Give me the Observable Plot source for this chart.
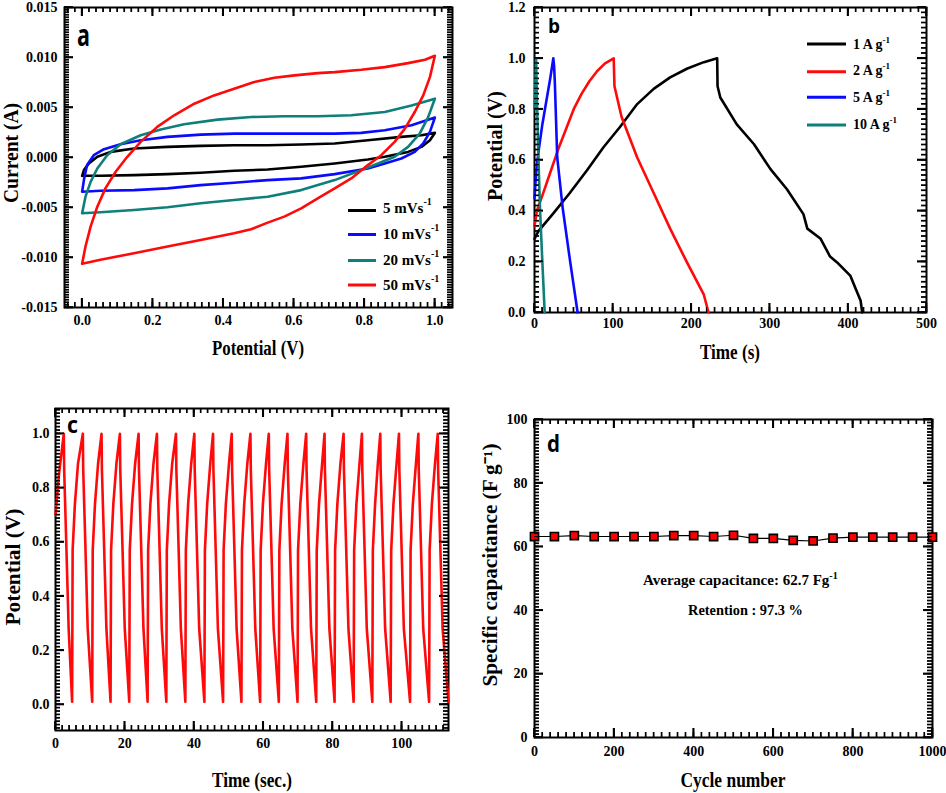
<!DOCTYPE html>
<html><head><meta charset="utf-8">
<script src="https://cdn.jsdelivr.net/npm/d3@7"></script>
<script src="https://cdn.jsdelivr.net/npm/@observablehq/plot@0.6"></script>
<style>
body{margin:0;background:#fff;}
#fig{position:relative;width:946px;height:793px;overflow:hidden;background:#fff;}
</style></head><body><div id="fig"></div><script>
// ---------- Panel a: cyclic voltammetry [potential (V), current (A)] ----------
const cvLabels = ["5 mVs", "10 mVs", "20 mVs", "50 mVs"];
const cvColors = ["#000000", "#0a0aff", "#0e7f7a", "#ff0a0a"];
const cv5 = [[0,-0.00183],[0.005,-0.00126],[0.019,-0.00060],[0.043,0.00007],[0.081,0.00056],[0.147,0.00090],[0.242,0.00106],[0.336,0.00116],[0.431,0.00123],[0.526,0.00123],[0.621,0.00130],[0.716,0.00140],[0.810,0.00173],[0.905,0.00206],[0.962,0.00223],[1.0,0.00246],
  [0.986,0.00173],[0.962,0.00106],[0.924,0.00056],[0.858,0.00007],[0.810,-0.00020],[0.716,-0.00060],[0.621,-0.00093],[0.526,-0.00120],[0.431,-0.00133],[0.336,-0.00153],[0.242,-0.00166],[0.147,-0.00176],[0.052,-0.00183],[0,-0.00183]];
const cv10 = [[0,-0.00342],[0.005,-0.00226],[0.014,-0.00076],[0.033,0.00023],[0.062,0.00083],[0.109,0.00133],[0.166,0.00173],[0.242,0.00206],[0.336,0.00229],[0.431,0.00239],[0.526,0.00239],[0.621,0.00239],[0.716,0.00239],[0.791,0.00246],[0.858,0.00272],[0.934,0.00322],[1.0,0.00399],
  [0.986,0.00256],[0.967,0.00140],[0.943,0.00056],[0.905,-0.00010],[0.858,-0.00060],[0.810,-0.00110],[0.716,-0.00166],[0.621,-0.00209],[0.526,-0.00226],[0.431,-0.00252],[0.336,-0.00276],[0.242,-0.00309],[0.147,-0.00326],[0.052,-0.00332],[0,-0.00342]];
const cv20 = [[0,-0.00558],[0.0095,-0.00392],[0.024,-0.00243],[0.043,-0.00110],[0.071,0.00023],[0.109,0.00133],[0.166,0.00223],[0.223,0.00279],[0.289,0.00332],[0.384,0.00379],[0.479,0.00405],[0.573,0.00412],[0.668,0.00412],[0.763,0.00422],[0.858,0.00455],[0.934,0.00521],[1.0,0.00588],
  [0.981,0.00404],[0.957,0.00239],[0.924,0.00106],[0.886,0.00007],[0.839,-0.00060],[0.791,-0.00126],[0.716,-0.00226],[0.621,-0.00326],[0.526,-0.00392],[0.431,-0.00425],[0.336,-0.00458],[0.242,-0.00498],[0.147,-0.00525],[0.052,-0.00548],[0,-0.00558]];
const cv50 = [[0,-0.01063],[0.0095,-0.00890],[0.024,-0.00691],[0.043,-0.00492],[0.066,-0.00309],[0.095,-0.00143],[0.128,0.00007],[0.166,0.00156],[0.213,0.00306],[0.261,0.00422],[0.318,0.00538],[0.374,0.00621],[0.431,0.00688],[0.488,0.00754],[0.545,0.00797],[0.602,0.00821],[0.668,0.00844],[0.716,0.00854],[0.791,0.00877],[0.858,0.00904],[0.924,0.00944],[0.972,0.00977],[1.0,0.01017],
  [0.986,0.00804],[0.967,0.00621],[0.943,0.00455],[0.915,0.00289],[0.886,0.00156],[0.848,0.00023],[0.810,-0.00076],[0.763,-0.00209],[0.716,-0.00309],[0.668,-0.00409],[0.621,-0.00508],[0.573,-0.00591],[0.526,-0.00651],[0.479,-0.00718],[0.431,-0.00757],[0.336,-0.00824],[0.242,-0.00890],[0.147,-0.00957],[0.052,-0.01023],[0,-0.01063]];
const cvTicksX = [0, 0.2, 0.4, 0.6, 0.8, 1.0];
const cvTicksY = [-0.015, -0.010, -0.005, 0, 0.005, 0.010, 0.015];

// ---------- Panel b: galvanostatic charge/discharge [time (s), potential (V)] ----------
const gcdLabels = ["1 A g", "2 A g", "5 A g", "10 A g"];
const gcdColors = ["#000000", "#ff0a0a", "#0a0aff", "#0e7f7a"];
const gcd1 = [[0,0.29],[5,0.32],[24,0.39],[45,0.47],[67,0.56],[88,0.65],[109,0.73],[131,0.82],[152,0.88],[173,0.925],[195,0.96],[216,0.985],[233,1.0],[233.5,0.89],[237,0.846],[258,0.74],[280,0.662],[301,0.564],[322,0.485],[343,0.387],[348,0.33],[365,0.29],[377,0.22],[386,0.197],[403,0.144],[409,0.098],[416,0.046],[418,0]];
const gcd2 = [[0,0.34],[3,0.40],[10,0.46],[20,0.55],[30,0.64],[40,0.72],[50,0.80],[60,0.86],[70,0.91],[80,0.95],[90,0.98],[101,1.0],[102,0.89],[111,0.77],[131,0.61],[152,0.47],[173,0.33],[194,0.20],[216,0.07],[222,0]];
const gcd5 = [[0,0.45],[2,0.55],[5,0.63],[10,0.74],[15,0.83],[20,0.92],[24,1.0],[25,0.97],[26,0.9],[29,0.61],[36,0.41],[45.5,0.2],[55,0]];
const gcd10 = [[0,0.80],[1,0.9],[2,1.0],[3,0.85],[5,0.61],[7,0.41],[10,0.2],[13,0]];
const gcdTicksX = [0, 100, 200, 300, 400, 500];
const gcdTicksY = [0, 0.2, 0.4, 0.6, 0.8, 1.0, 1.2];

// ---------- Panel c: repeated charge/discharge cycles [time (s), potential (V)] ----------
const cycling = [
[0,0.70],[1.0,0.85],[2.4,1.0],[2.5,0.87],[3.1,0.60],[3.8,0.28],
[4.8,0.01],[4.95,0.57],[5.6,0.74],[6.5,0.89],[7.9,1.0],[8.0,0.87],[8.6,0.60],[9.3,0.28],
[10.6,0.01],[10.75,0.57],[11.4,0.74],[12.3,0.89],[13.3,1.0],[13.4,0.87],[14.0,0.60],[14.7,0.28],
[15.9,0.01],[16.05,0.57],[16.7,0.74],[17.6,0.89],[18.6,1.0],[18.7,0.87],[19.3,0.60],[20.0,0.28],
[21.3,0.01],[21.45,0.57],[22.1,0.74],[23.0,0.89],[24.0,1.0],[24.1,0.87],[24.7,0.60],[25.4,0.28],
[26.6,0.01],[26.75,0.57],[27.4,0.74],[28.3,0.89],[29.3,1.0],[29.4,0.87],[30.0,0.60],[30.7,0.28],
[32.0,0.01],[32.15,0.57],[32.8,0.74],[33.7,0.89],[34.8,1.0],[34.9,0.87],[35.5,0.60],[36.2,0.28],
[37.5,0.01],[37.65,0.57],[38.3,0.74],[39.2,0.89],[40.1,1.0],[40.2,0.87],[40.8,0.60],[41.5,0.28],
[43.0,0.01],[43.15,0.57],[43.8,0.74],[44.7,0.89],[45.5,1.0],[45.6,0.87],[46.2,0.60],[46.9,0.28],
[48.4,0.01],[48.55,0.57],[49.2,0.74],[50.1,0.89],[50.9,1.0],[51.0,0.87],[51.6,0.60],[52.3,0.28],
[53.7,0.01],[53.85,0.57],[54.5,0.74],[55.4,0.89],[56.3,1.0],[56.4,0.87],[57.0,0.60],[57.7,0.28],
[59.1,0.01],[59.25,0.57],[59.9,0.74],[60.8,0.89],[61.6,1.0],[61.7,0.87],[62.3,0.60],[63.0,0.28],
[64.5,0.01],[64.65,0.57],[65.3,0.74],[66.2,0.89],[67.0,1.0],[67.1,0.87],[67.7,0.60],[68.4,0.28],
[69.9,0.01],[70.05,0.57],[70.7,0.74],[71.6,0.89],[72.4,1.0],[72.5,0.87],[73.1,0.60],[73.8,0.28],
[75.3,0.01],[75.45,0.57],[76.1,0.74],[77.0,0.89],[77.7,1.0],[77.8,0.87],[78.4,0.60],[79.1,0.28],
[80.6,0.01],[80.75,0.57],[81.4,0.74],[82.3,0.89],[83.2,1.0],[83.3,0.87],[83.9,0.60],[84.6,0.28],
[86.1,0.01],[86.25,0.57],[86.9,0.74],[87.8,0.89],[88.5,1.0],[88.6,0.87],[89.2,0.60],[89.9,0.28],
[91.5,0.01],[91.65,0.57],[92.3,0.74],[93.1,0.89],[93.8,1.0],[93.9,0.87],[94.5,0.60],[95.2,0.28],
[96.8,0.01],[96.95,0.57],[97.6,0.74],[98.5,0.89],[99.2,1.0],[99.3,0.87],[99.9,0.60],[100.6,0.28],
[102.4,0.01],[102.55,0.57],[103.2,0.74],[104.1,0.89],[104.8,1.0],[104.9,0.87],[105.5,0.60],[106.2,0.28],
[107.9,0.01],[108.05,0.57],[108.7,0.74],[109.6,0.89],[110.4,1.0],[110.5,0.87],[111.1,0.60],[111.8,0.28],
[113.5,0.01]];
const cycTicksX = [0, 20, 40, 60, 80, 100];
const cycTicksY = [0, 0.2, 0.4, 0.6, 0.8, 1.0];

// ---------- Panel d: capacitance retention ----------
const cycleNumber = [0,50,100,150,200,250,300,350,400,450,500,550,600,650,700,750,800,850,900,950,1000];
const capacitance = [63.2,63.2,63.5,63.2,63.2,63.2,63.2,63.5,63.5,63.2,63.6,62.6,62.6,62.0,61.8,62.7,63.0,63.0,63.0,63.0,63.0];
const capTicksX = [0, 200, 400, 600, 800, 1000];
const capTicksY = [0, 20, 40, 60, 80, 100];

// ---------- helpers ----------
const fig = document.getElementById("fig");
const SERIF = "'Liberation Serif', 'Times New Roman', serif";
const toRows = (pairs) => pairs.map(([x, y]) => ({x, y}));
function minor(domain, step) {
  const lo = Math.min(...domain), hi = Math.max(...domain);
  return d3.range(Math.ceil(lo / step - 1e-6), Math.floor(hi / step + 1e-6) + 1).map(i => +(i * step).toFixed(6));
}
function panel(o) {
  const [mt, mr, mb, ml] = o.margin;
  const pw = o.width - ml - mr, ph = o.height - mt - mb;
  const [xa, xb] = o.xDomain, [ya, yb] = o.yDomain;
  const kx = (xb - xa) / pw, ky = (yb - ya) / ph;
  const xm = minor(o.xDomain, o.xStep), ym = minor(o.yDomain, o.yStep);
  const ML = 5, MJ = 9;
  const tk = {stroke: "black", strokeWidth: 1.2};
  const tj = {stroke: "black", strokeWidth: 1.6};
  const edgeTicks = (xs, ys, L, st) => [
    Plot.ruleX(xs, {x: d => d, y1: () => ya, y2: () => ya + L * ky, ...st}),
    Plot.ruleX(xs, {x: d => d, y1: () => yb - L * ky, y2: () => yb, ...st}),
    Plot.ruleY(ys, {y: d => d, x1: () => xa, x2: () => xa + L * kx, ...st}),
    Plot.ruleY(ys, {y: d => d, x1: () => xb - L * kx, x2: () => xb, ...st})
  ];
  const svg = Plot.plot({
      width: o.width, height: o.height,
      marginTop: mt, marginRight: mr, marginBottom: mb, marginLeft: ml,
      style: {fontFamily: SERIF, fontWeight: "bold", fontSize: "14px", color: "black", background: "transparent", overflow: "visible"},
      x: {domain: o.xDomain, axis: null},
      y: {domain: o.yDomain, axis: null},
      marks: [
        Plot.frame({stroke: "black", fill: "none", strokeWidth: 2}),
        ...edgeTicks(xm, ym, ML, tk),
        ...edgeTicks(o.xTicks, o.yTicks, MJ, tj),
        Plot.axisX({ticks: o.xTicks, tickSize: 0, tickPadding: o.padX, tickFormat: o.xFmt, label: null}),
        Plot.axisY({ticks: o.yTicks, tickSize: 0, tickPadding: o.padY, tickFormat: o.yFmt, label: null}),
        ...o.marks
      ]
  });
  // second pass of the inward frame ticks, drawn with the plot's own x/y scales
  const sx = svg.scale("x"), sy = svg.scale("y");
  const X = d3.scaleLinear(sx.domain, sx.range), Y = d3.scaleLinear(sy.domain, sy.range);
  const g = d3.select(svg).append("g").attr("stroke", "black");
  const yBot = Y(ya), yTop = Y(yb), xL = X(xa), xR = X(xb);
  for (const [xs, ys, L, w] of [[xm, ym, ML, 1.2], [o.xTicks, o.yTicks, MJ, 1.6]]) {
    for (const v of xs) {
      const px = X(v);
      g.append("line").attr("x1", px).attr("x2", px).attr("y1", yBot).attr("y2", yBot - L).attr("stroke-width", w);
      g.append("line").attr("x1", px).attr("x2", px).attr("y1", yTop).attr("y2", yTop + L).attr("stroke-width", w);
    }
    for (const v of ys) {
      const py = Y(v);
      g.append("line").attr("y1", py).attr("y2", py).attr("x1", xL).attr("x2", xL + L).attr("stroke-width", w);
      g.append("line").attr("y1", py).attr("y2", py).attr("x1", xR).attr("x2", xR - L).attr("stroke-width", w);
    }
  }
  svg.style.position = "absolute";
  svg.style.left = o.left + "px";
  svg.style.top = o.top + "px";
  fig.appendChild(svg);
}

// ---------- panel a ----------
panel({
  left: 0, top: 0, width: 470, height: 370, margin: [7, 18, 63, 64],
  xDomain: [-0.05, 1.05], yDomain: [-0.015, 0.015], xStep: 0.02, yStep: 0.00025,
  xTicks: cvTicksX, yTicks: cvTicksY, xFmt: d => d.toFixed(1), yFmt: d => d.toFixed(3),
  padX: 8, padY: 7,
  marks: [cv5, cv10, cv20, cv50].map((p, i) => Plot.line(toRows(p), {x: "x", y: "y", stroke: cvColors[i], strokeWidth: 2.6})),
});

// ---------- panel b ----------
panel({
  left: 470, top: 0, width: 476, height: 370, margin: [7, 20, 58, 64],
  xDomain: [0, 500], yDomain: [0, 1.2], xStep: 10, yStep: 0.02,
  xTicks: gcdTicksX, yTicks: gcdTicksY, xFmt: d => String(d), yFmt: d => d.toFixed(1),
  padX: 6, padY: 9,
  marks: [gcd1, gcd2, gcd5, gcd10].map((p, i) => Plot.line(toRows(p), {x: "x", y: "y", stroke: gcdColors[i], strokeWidth: 2.6})),
});

// ---------- panel c ----------
panel({
  left: 0, top: 400, width: 470, height: 393, margin: [8, 22, 63, 55],
  xDomain: [0, 113.5], yDomain: [-0.096, 1.093], xStep: 2, yStep: 0.0125,
  xTicks: cycTicksX, yTicks: cycTicksY, xFmt: d => String(d), yFmt: d => d.toFixed(1),
  padX: 8, padY: 6,
  marks: [Plot.line(toRows(cycling), {x: "x", y: "y", stroke: "#ff0a0a", strokeWidth: 2.6})],
});

// ---------- panel d ----------
const capRows = cycleNumber.map((c, i) => ({x: c, y: capacitance[i]}));
panel({
  left: 470, top: 400, width: 476, height: 393, margin: [19, 14, 56, 64],
  xDomain: [0, 1000], yDomain: [0, 100], xStep: 20, yStep: 1,
  xTicks: capTicksX, yTicks: capTicksY, xFmt: d => String(d), yFmt: d => String(d),
  padX: 9, padY: 7,
  marks: [
    Plot.line(capRows, {x: "x", y: "y", stroke: "#000", strokeWidth: 1.2}),
    Plot.dot(capRows, {x: "x", y: "y", symbol: "square", r: 4.6, fill: "#ff0000", stroke: "#000", strokeWidth: 1.6})
  ],
});

// ---------- overlay: axis titles, panel letters, legends, notes ----------
const ov = d3.create("svg").attr("width", 946).attr("height", 793)
  .style("position", "absolute").style("left", "0px").style("top", "0px").style("pointer-events", "none");
const titles = [
  ["Potential (V)", 258, 348, 0, 92], ["Current (A)", 11, 153, -90, 100],
  ["Time (s)", 730, 352, 0, 60], ["Potential (V)", 495, 146, -90, 110],
  ["Time (sec.)", 252, 780, 0, 80], ["Potential (V)", 13, 567, -90, 117],
  ["Cycle number", 733, 780, 0, 105], ["Specific capacitance (F g\u207B\u00B9)", 490, 565, -90, 243]
];
for (const [t, x, y, r, len] of titles) {
  ov.append("text").attr("transform", `translate(${x},${y}) rotate(${r})`)
    .attr("text-anchor", "middle").attr("dominant-baseline", "central")
    .attr("font-family", SERIF).attr("font-weight", "bold").attr("font-size", 20)
    .attr("textLength", len).attr("lengthAdjust", "spacingAndGlyphs").text(t);
}
const letters = [["a", 77, 46, 30, 13], ["b", 548, 33, 20, 12], ["c", 67, 433, 24, 11], ["d", 547, 452, 23, 13]];
for (const [t, x, y, s, w] of letters) {
  ov.append("text").attr("x", x).attr("y", y).attr("font-family", "'Open Sans', sans-serif").attr("font-weight", "bold")
    .attr("font-size", s).attr("textLength", w).attr("lengthAdjust", "spacingAndGlyphs").text(t);
}
function legend(labels, colors, lineX1, lineX2, lineYs, textX, baseYs, fs, supFs, supDy) {
  labels.forEach((lab, i) => {
    ov.append("line").attr("x1", lineX1).attr("x2", lineX2).attr("y1", lineYs[i]).attr("y2", lineYs[i])
      .attr("stroke", colors[i]).attr("stroke-width", 3);
    const t = ov.append("text").attr("x", textX).attr("y", baseYs[i]).attr("font-family", SERIF)
      .attr("font-weight", "bold").attr("font-size", fs).text(lab);
    t.append("tspan").attr("dy", supDy).attr("font-size", supFs).text("-1");
  });
}
legend(cvLabels, cvColors, 348, 376, [210.5, 234.5, 260.5, 285], 383, [213, 239, 265, 290], 15, 10, -8);
legend(gcdLabels, gcdColors, 807, 846, [44, 71.7, 97.3, 125], 853, [48.5, 75, 101.5, 128.5], 14, 9, -6);
const n1 = ov.append("text").attr("x", 643).attr("y", 585).attr("font-family", SERIF).attr("font-weight", "bold")
  .attr("font-size", 15).text("Average capacitance: 62.7 Fg");
n1.append("tspan").attr("dy", -6).attr("font-size", 10).text("-1");
ov.append("text").attr("x", 688).attr("y", 615).attr("font-family", SERIF).attr("font-weight", "bold")
  .attr("font-size", 15).attr("textLength", 115).attr("lengthAdjust", "spacingAndGlyphs").text("Retention : 97.3 %");
fig.appendChild(ov.node());
</script></body></html>
